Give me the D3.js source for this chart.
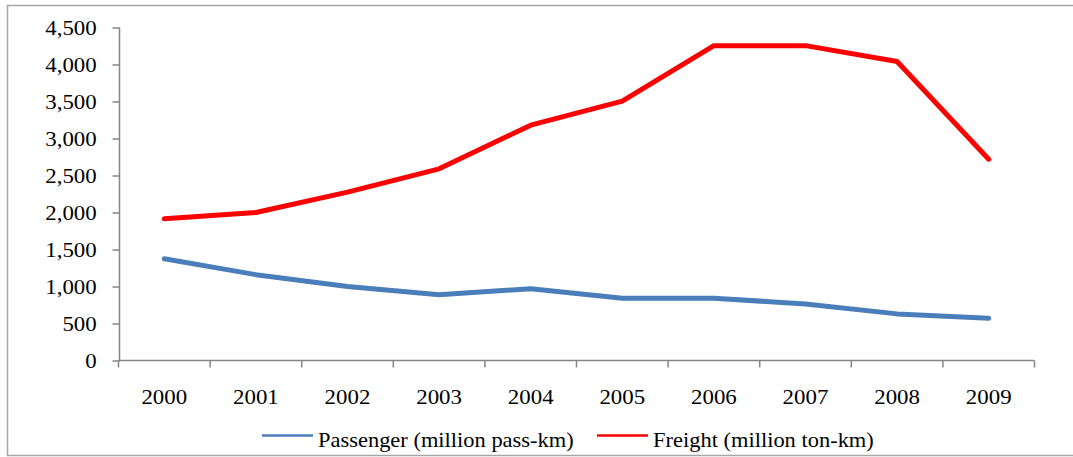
<!DOCTYPE html>
<html><head><meta charset="utf-8">
<script src="https://cdn.jsdelivr.net/npm/d3@7"></script>
<style>body{margin:0;background:#fff}svg{display:block}
svg text{font-family:"Liberation Serif","Times New Roman",Times,serif;fill:#000;font-size:21px}</style>
</head><body>
<svg id="c" width="1073" height="457"></svg>
<script>
const years = ["2000","2001","2002","2003","2004","2005","2006","2007","2008","2009"];
const passenger = [1375, 1160, 1000, 890, 970, 840, 840, 765, 630, 570];
const freight = [1915, 2000, 2275, 2590, 3180, 3505, 4255, 4255, 4040, 2720];
const yTicks = [0, 500, 1000, 1500, 2000, 2500, 3000, 3500, 4000, 4500];
const seriesNames = ["Passenger (million pass-km)", "Freight (million ton-km)"];
const seriesColors = ["#4a7ebb", "#ff0000"];

const SX = 1.09; // horizontal stretch of the reference's text
const SXL = 1.07;
const svg = d3.select("#c");
svg.append("rect").attr("x",7.5).attr("y",5.5).attr("width",1080).attr("height",450)
  .attr("fill","#fff").attr("stroke","#a6a6a6").attr("stroke-width",1.5);

const x = d3.scaleBand().domain(years).range([118.5, 1034.5]);
const y = d3.scaleLinear().domain([0, 4500]).range([360.5, 27.5]);

const yAxis = svg.append("g").attr("transform","translate(119.5,0)")
  .call(d3.axisLeft(y).tickValues(yTicks).tickFormat(d3.format(",")).tickSize(7).tickPadding(12));
yAxis.attr("font-family", null).attr("font-size", null);
yAxis.select(".domain").attr("stroke","#868686").attr("stroke-width",1.5).attr("d","M0,27.5V360.5");
yAxis.selectAll(".tick line").attr("stroke","#868686").attr("stroke-width",1.5);
yAxis.selectAll("text").attr("x", -22.8 / SX).attr("transform", `scale(${SX},1)`);

const xAxis = svg.append("g").attr("transform","translate(0,360.5)")
  .call(d3.axisBottom(x).tickSize(0).tickPadding(26));
xAxis.attr("font-family", null).attr("font-size", null);
xAxis.select(".domain").attr("stroke","#868686").attr("stroke-width",1.5).attr("d","M118.5,0H1034.5");
xAxis.selectAll("text").attr("y", 43.5).attr("dy", 0).attr("transform", `scale(${SX},1)`);
// ticks between categories
const bounds = years.map(d => x(d)).concat([x.range()[1]]);
svg.append("g").selectAll("line").data(bounds).join("line")
  .attr("x1",d=>d).attr("x2",d=>d).attr("y1",360.5).attr("y2",367.5)
  .attr("stroke","#868686").attr("stroke-width",1.5);

const line = d3.line().x((d,i)=>x(years[i]) + x.bandwidth()/2).y(d=>y(d));
[passenger, freight].forEach((s, k) => {
  svg.append("path").datum(s).attr("d", line).attr("fill","none")
    .attr("stroke", seriesColors[k]).attr("stroke-width", 5)
    .attr("stroke-linejoin","round").attr("stroke-linecap","round");
});

const legendX = [262, 597];
const lg = svg.append("g");
seriesNames.forEach((n,k) => {
  lg.append("line").attr("x1",legendX[k]).attr("x2",legendX[k]+51).attr("y1",435.5).attr("y2",435.5)
    .attr("stroke",seriesColors[k]).attr("stroke-width",2.5);
  lg.append("text").attr("transform",`translate(${legendX[k]+56},446.5) scale(${SXL},1)`).text(n);
});
</script>
</body></html>
